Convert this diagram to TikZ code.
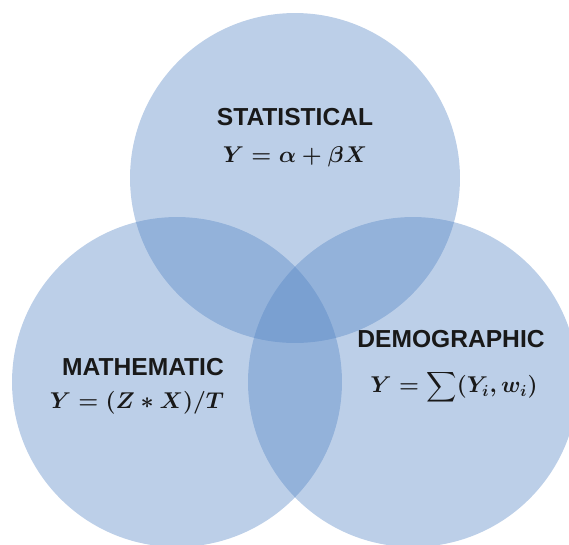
\documentclass[tikz,border=0pt]{standalone}
\usepackage{fix-cm}
\usepackage{exscale}
\usepackage{fontspec}
\setsansfont{Liberation Sans}
\definecolor{vennblue}{RGB}{80,130,195}
\begin{document}
\begin{tikzpicture}[x=0.02cm, y=-0.02cm,
    blob/.style={circle, fill=vennblue, fill opacity=0.38, minimum size=6.6cm, inner sep=0pt},
    head/.style={font=\sffamily\bfseries\fontsize{14}{16}\selectfont, text=black!90},
    eqn/.style={font=\fontsize{13}{16}\selectfont\boldmath, text=black!90, inner sep=1pt}]
  \clip (0,0) rectangle (569,545);
  \foreach \nm/\x/\y in {stat/295/178, math/177/382, demo/413/382}
    \node[blob] (\nm) at (\x,\y) {};
  \node[head] (statlab) at (295,117) {STATISTICAL};
  \node[eqn] (stateq) at (295,157) {$Y = \alpha + \beta X$};
  \node[head] (mathlab) at (143,367) {MATHEMATIC};
  \node[eqn] (matheq) at (137,403) {$Y = (Z * X)/T$};
  \node[head] (demolab) at (451,339) {DEMOGRAPHIC};
  \node[eqn] (demoeq) at (454,387) {$\displaystyle Y = \sum (Y_i, w_i)$};
\end{tikzpicture}
\end{document}
